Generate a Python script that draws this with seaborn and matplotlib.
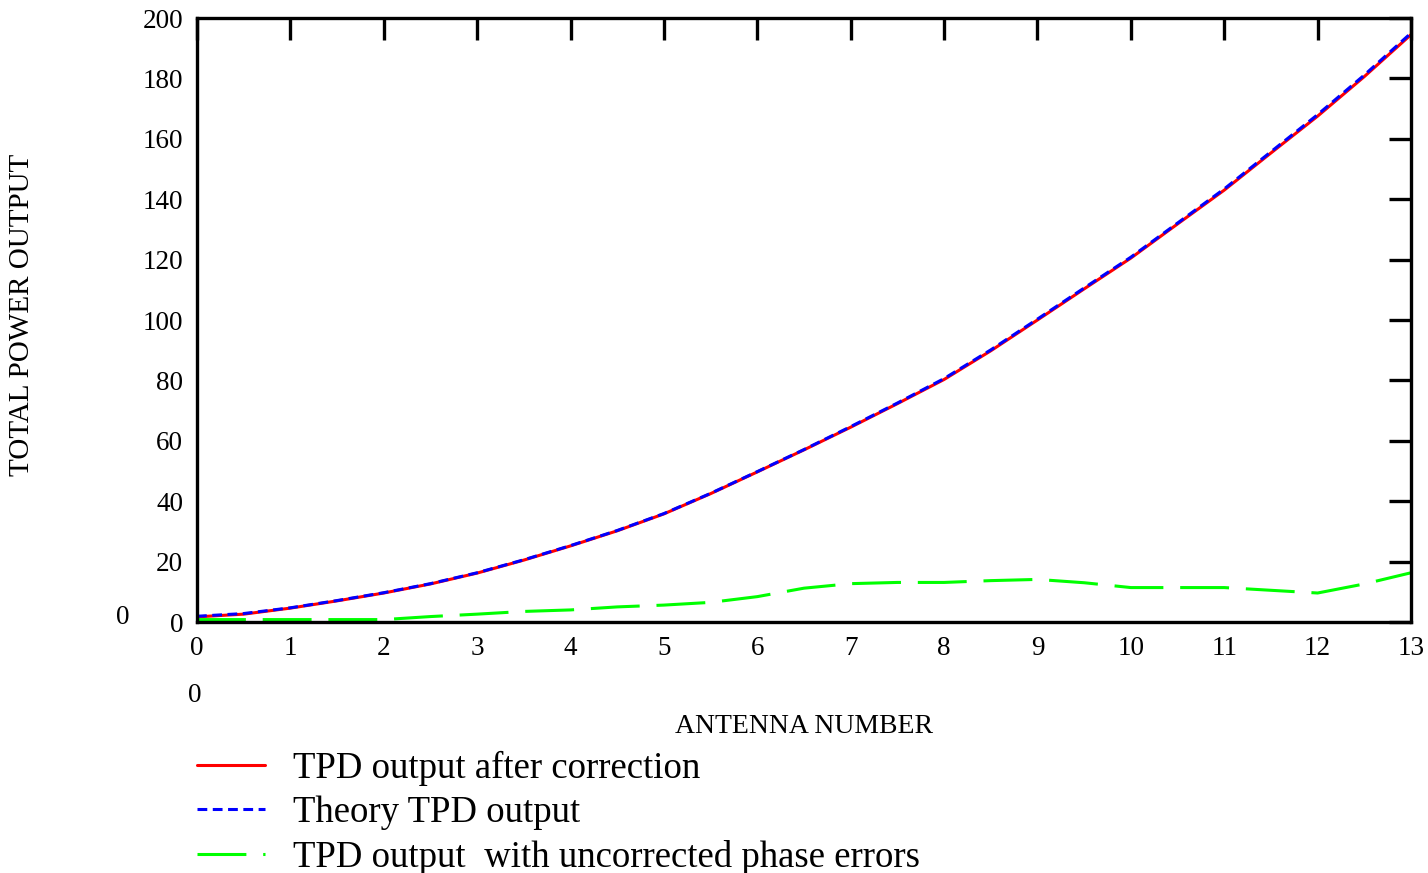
import matplotlib
matplotlib.use("Agg")
import matplotlib.pyplot as plt
import seaborn as sns
import numpy as np

# ---- data ----
x_main = [0, 0.5, 1, 1.5, 2, 2.5, 3, 3.5, 4, 4.5, 5, 5.5, 6, 6.5, 7, 7.5, 8,
          8.5, 9, 9.5, 10, 10.5, 11, 11.5, 12, 12.5, 13]
corrected = [1.7, 2.6, 4.6, 7.0, 9.6, 12.6, 16.2, 20.5, 25.2, 30.2, 35.8, 42.5,
             49.7, 57.0, 64.5, 72.3, 80.3, 89.8, 100.0, 110.3, 120.5, 131.8,
             143.0, 155.3, 167.5, 180.6, 194.5]
theory = [1.9, 2.8, 4.7, 7.1, 9.7, 12.7, 16.3, 20.6, 25.3, 30.3, 35.9, 42.6,
          49.8, 57.1, 64.7, 72.5, 80.6, 90.1, 100.3, 110.6, 120.8, 132.1,
          143.4, 155.7, 168.0, 181.1, 195.0]

x_unc = [0, 0.5, 1, 1.5, 2, 2.5, 3, 3.5, 4, 4.5, 5, 5.5, 6, 6.5, 7, 7.5, 8,
         8.5, 9, 9.5, 10, 10.5, 11, 11.5, 12, 12.5, 13]
uncorrected = [0.8, 0.8, 0.8, 0.8, 0.8, 1.8, 2.6, 3.5, 4.0, 5.0, 5.6, 6.5, 8.4,
               11.2, 12.7, 13.1, 13.1, 13.7, 14.1, 13.0, 11.4, 11.4, 11.4,
               10.5, 9.6, 12.6, 16.3]

x_ticks = list(range(0, 14))
y_ticks = list(range(0, 201, 20))
labels = ["TPD output after correction", "Theory TPD output",
          "TPD output  with uncorrected phase errors"]

# ---- styling ----
sns.set_style("white")
plt.rcParams["font.family"] = ["Liberation Serif", "DejaVu Serif"]
plt.rcParams.update({
    "text.color": "black",
    "axes.labelcolor": "black",
    "xtick.color": "black",
    "ytick.color": "black",
    "axes.edgecolor": "black",
})

fig = plt.figure(figsize=(14.28, 8.73), dpi=100)
ax = fig.add_axes([197 / 1428, 1 - 622 / 873, (1411 - 197) / 1428, (622 - 18) / 873])

sns.lineplot(x=x_main, y=corrected, color="#ff0000", linewidth=2.2,
             label=labels[0], ax=ax)
sns.lineplot(x=x_main, y=theory, color="#0000ff", linewidth=2.2,
             linestyle=(0, (3.2, 1.8)), label=labels[1], ax=ax)
sns.lineplot(x=x_unc, y=uncorrected, color="#00ff00", linewidth=2.2,
             linestyle=(0, (16, 5.5)), label=labels[2], ax=ax)

ax.set_xlim(0, 13)
ax.set_ylim(0, 200)
ax.set_xticks(x_ticks)
ax.set_yticks(y_ticks)
ax.set_xticklabels([str(v) for v in x_ticks], fontsize=19.5, color="black")
ax.set_yticklabels([str(v) for v in y_ticks], fontsize=19.5, color="black")
ax.tick_params(direction="in", top=True, right=True, length=16, width=2.4,
               color="black", labelcolor="black", pad=10)
for s in ax.spines.values():
    s.set_linewidth(2.4)
    s.set_color("black")
    s.set_visible(True)

ax.set_xlabel("ANTENNA NUMBER", fontsize=20, labelpad=38, color="black")
ax.set_ylabel("TOTAL POWER OUTPUT", fontsize=21, color="black")
ax.yaxis.set_label_coords((35 - 197) / 1214, (622 - 315) / 604)

# stray Mathcad limit labels
fig.text(123 / 1428, 1 - 617 / 873, "0", fontsize=19.5, ha="center", va="center",
         color="black")
fig.text(195 / 1428, 1 - 695 / 873, "0", fontsize=19.5, ha="center", va="center",
         color="black")

leg = ax.legend(loc="upper left", bbox_to_anchor=(197 / 1428, 1 - 751 / 873),
                bbox_transform=fig.transFigure, frameon=False, fontsize=26.5,
                handlelength=1.85, handletextpad=0.76, labelspacing=0.26,
                borderaxespad=0, borderpad=0, labelcolor="black")

fig.savefig("out.png", dpi=100, facecolor="white")
